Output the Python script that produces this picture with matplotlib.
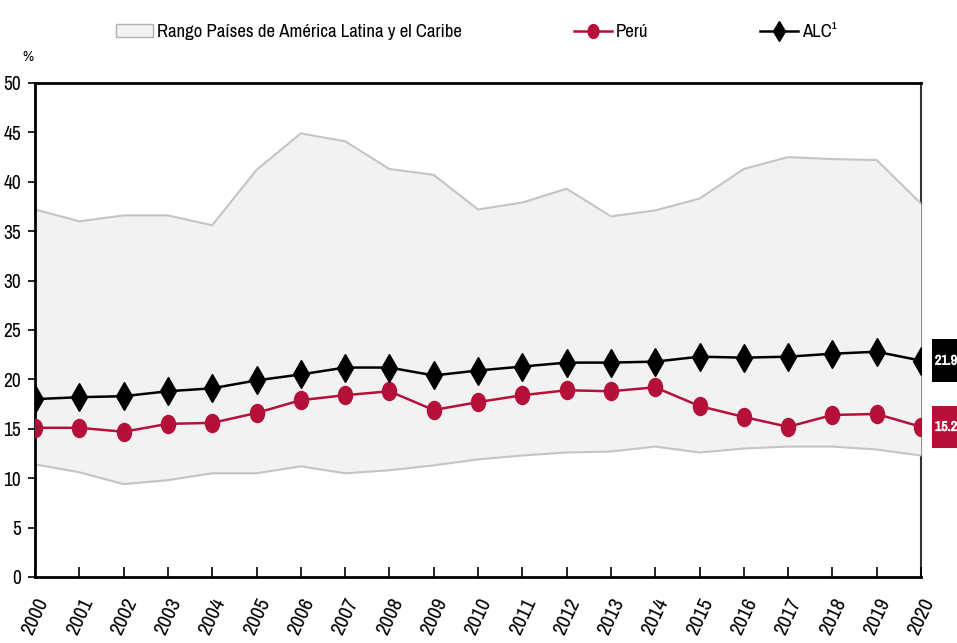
import matplotlib
matplotlib.use("Agg")
import matplotlib.pyplot as plt
from matplotlib import font_manager as fm
from matplotlib.font_manager import FontProperties
from matplotlib.path import Path
from matplotlib.lines import Line2D
from matplotlib.patches import Patch, Rectangle
import matplotlib.transforms as mtransforms
import matplotlib.patheffects as pe
import numpy as np

years = list(range(2000, 2021))
range_high = [37.2, 36.0, 36.6, 36.6, 35.6, 41.2, 44.9, 44.1, 41.3, 40.7, 37.2,
              37.9, 39.3, 36.5, 37.1, 38.3, 41.3, 42.5, 42.3, 42.2, 37.8]
range_low = [11.4, 10.6, 9.4, 9.8, 10.5, 10.5, 11.2, 10.5, 10.8, 11.3, 11.9,
             12.3, 12.6, 12.7, 13.2, 12.6, 13.0, 13.2, 13.2, 12.9, 12.3]
peru = [15.1, 15.1, 14.7, 15.5, 15.6, 16.6, 17.9, 18.4, 18.8, 16.9, 17.7,
        18.4, 18.9, 18.8, 19.2, 17.3, 16.2, 15.2, 16.4, 16.5, 15.2]
alc = [18.0, 18.2, 18.3, 18.8, 19.1, 19.9, 20.5, 21.2, 21.2, 20.4, 20.9,
       21.3, 21.7, 21.7, 21.8, 22.3, 22.2, 22.3, 22.6, 22.8, 21.9]
yticks = [0, 5, 10, 15, 20, 25, 30, 35, 40, 45, 50]
legend_labels = ["Rango Países de América Latina y el Caribe", "Perú", "ALC¹"]

# pick a narrow font file if available
fonts = fm.fontManager.ttflist
def find(pred):
    for f in fonts:
        if pred(f):
            return f.fname
    return None
fname = (find(lambda f: "LiberationSansNarrow-Regular" in f.fname)
         or find(lambda f: "Narrow" in f.fname and "Bold" not in f.fname and "Italic" not in f.fname)
         or find(lambda f: "DejaVuSansCondensed.ttf" in f.fname)
         or find(lambda f: "Condensed" in f.fname and "Bold" not in f.fname and "Oblique" not in f.fname))

def fp(size):
    if fname:
        return FontProperties(fname=fname, size=size)
    return FontProperties(family="DejaVu Sans", stretch="condensed", size=size)

RED = "#b5103a"
FILL = "#f2f2f2"
EDGE = "#c4c4c4"

fig = plt.figure(figsize=(9.57, 6.43), dpi=100)
ax = fig.add_axes([35/957, 1-577/643, (921-35)/957, (577-83)/643])

x = np.array(years)
ax.fill_between(x, range_low, range_high, color=FILL, zorder=1, lw=0)
ax.plot(x, range_high, color=EDGE, lw=1.5, zorder=1.5)
ax.plot(x, range_low, color=EDGE, lw=1.5, zorder=1.5)

ell = Path(Path.unit_circle().vertices * np.array([0.78, 1.0]), Path.unit_circle().codes)
ax.plot(x, peru, color=RED, lw=1.8, marker=ell, markersize=13, zorder=4)
ax.plot(x, alc, color="black", lw=1.8, marker="d", markersize=14, zorder=5)

ax.set_xlim(2000, 2020)
ax.set_ylim(0, 50)
ax.set_yticks(yticks)
ax.set_xticks(years)
ax.set_xticklabels([str(y) for y in years], rotation=65, ha="right", va="top",
                   rotation_mode="anchor")
for t in ax.get_xticklabels():
    t.set_fontproperties(fp(15))
ax.set_yticklabels([str(v) for v in yticks])
for t in ax.get_yticklabels():
    t.set_fontproperties(fp(14))
ax.tick_params(axis="x", direction="in", length=7, width=1.2, pad=13)
ax.tick_params(axis="y", direction="out", length=5, width=1.2, pad=5)
for s in ["left", "bottom", "top"]:
    ax.spines[s].set_linewidth(2)
ax.spines["right"].set_linewidth(1.5)
ax.spines["right"].set_zorder(0.5)
ax.spines["right"].set_color("#333333")

fig.text(28/957, 1-57/643, "%", fontproperties=fp(11), ha="center", va="center")

# end-value boxes
blend = mtransforms.blended_transform_factory(ax.transAxes, ax.transData)
box_x0 = (932 - 35) / 886
text_x = (935 - 35) / 886
for val, col in [(alc[-1], "black"), (peru[-1], RED)]:
    ax.add_patch(Rectangle((box_x0, val - 2.15), 0.05, 4.3, transform=blend,
                           facecolor=col, edgecolor="none", clip_on=False, zorder=6))
    ax.text(text_x, val, f"{val:.1f}", transform=blend, ha="left", va="center",
            color="white", fontproperties=fp(10), zorder=7, clip_on=False,
            path_effects=[pe.withStroke(linewidth=0.5, foreground="white")])

handles = [Patch(facecolor=FILL, edgecolor="#b0b0b0", lw=1),
           Line2D([], [], color=RED, lw=1.8, marker=ell, markersize=10),
           Line2D([], [], color="black", lw=1.8, marker="d", markersize=10)]
fig.legend(handles, legend_labels, loc="center", bbox_to_anchor=(476/957, 1-32/643), ncol=3,
           frameon=False, prop=fp(13.5), columnspacing=6, handlelength=2.0,
           handletextpad=0.2)

fig.savefig("out.png", dpi=100)
